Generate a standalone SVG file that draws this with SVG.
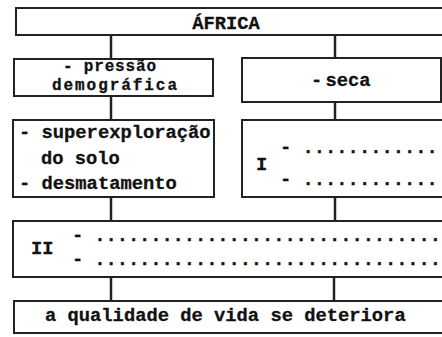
<svg xmlns="http://www.w3.org/2000/svg" width="442" height="337" viewBox="0 0 442 337">
<style>
.box{fill:#fff;stroke:#222;stroke-width:2}
.con line{stroke:#222;stroke-width:2.5}
text{font-family:"Liberation Mono","Courier New",monospace;font-weight:bold;font-size:18.8px;fill:#111;stroke:#111;stroke-width:0.3}
.tight{font-size:16px}
</style>
<rect width="442" height="337" fill="#fff"/>
<g id="connectors" class="con">
<line x1="111" y1="35" x2="111" y2="59"/>
<line x1="335" y1="35" x2="335" y2="58"/>
<line x1="111" y1="96" x2="111" y2="120"/>
<line x1="335" y1="102" x2="335" y2="120"/>
<line x1="111" y1="197" x2="111" y2="221"/>
<line x1="335" y1="197" x2="335" y2="221"/>
<line x1="111" y1="277" x2="111" y2="301"/>
<line x1="334" y1="277" x2="334" y2="301"/>
</g>
<g id="africa">
<rect class="box" x="16" y="8" width="440" height="27"/>
<text x="226" y="29" text-anchor="middle">ÁFRICA</text>
</g>
<g id="pressao">
<rect class="box" x="14" y="59" width="199" height="37"/>
<text class="tight" x="63" y="71" textLength="93" lengthAdjust="spacing">- pressão</text>
<text class="tight" x="52" y="90" textLength="125" lengthAdjust="spacing">demográfica</text>
</g>
<g id="seca">
<rect class="box" x="242" y="58" width="199" height="44"/>
<text x="311" y="86" word-spacing="-8">- seca</text>
</g>
<g id="consequencias">
<rect class="box" x="13" y="120" width="201" height="77"/>
<text x="19" y="138">- superexploração</text>
<text x="41" y="164">do solo</text>
<text x="19" y="189">- desmatamento</text>
</g>
<g id="I">
<rect class="box" x="242" y="120" width="210" height="77"/>
<text x="256" y="170">I</text>
<text x="280" y="153">- ............</text>
<text x="280" y="185">- ............</text>
</g>
<g id="II">
<rect class="box" x="13" y="221" width="440" height="56"/>
<text x="31" y="254">II</text>
<text x="72" y="241" textLength="369" lengthAdjust="spacing">- ...............................</text>
<text x="72" y="265" textLength="369" lengthAdjust="spacing">- ...............................</text>
</g>
<g id="qualidade">
<rect class="box" x="14" y="301" width="440" height="32"/>
<text x="45" y="321">a qualidade de vida se deteriora</text>
</g>
</svg>
